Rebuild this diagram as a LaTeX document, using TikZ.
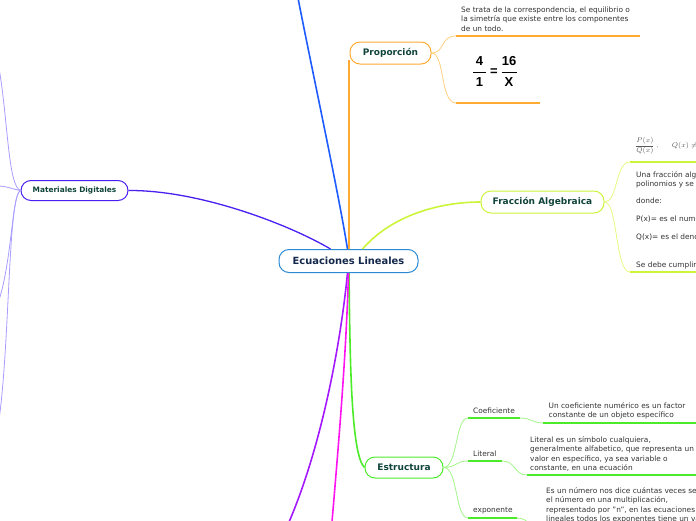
\documentclass[tikz,border=0pt]{standalone}
\usepackage{fontspec}
\setmainfont{DejaVu Sans}
\newfontfamily\arialfont{Liberation Sans}
\usetikzlibrary{calc}
\definecolor{cblue}{HTML}{1F5CFF}
\definecolor{cmat}{HTML}{4A1FF0}
\definecolor{cmatl}{HTML}{A89CFF}
\definecolor{corange}{HTML}{FFAA33}
\definecolor{corangel}{HTML}{FFD080}
\definecolor{cyel}{HTML}{CCF53A}
\definecolor{cyell}{HTML}{E4FA80}
\definecolor{cgreen}{HTML}{4CEB2A}
\definecolor{cgreenl}{HTML}{A2F58A}
\definecolor{cpurple}{HTML}{A418FF}
\definecolor{cmag}{HTML}{FF14F0}
\definecolor{ccentral}{HTML}{2A8AD4}
\definecolor{txtgreen}{HTML}{10443A}
\definecolor{txtnavy}{HTML}{14284B}
\definecolor{txtgray}{HTML}{333333}
\begin{document}
\begin{tikzpicture}[x=1pt,y=-1pt,
  topic/.style={draw, rounded corners=10pt, fill=white, line width=1pt, inner sep=0pt,
    font=\bfseries\fontsize{9}{11}\selectfont, text=txtgreen},
  txt/.style={font=\fontsize{7.4}{9.3}\selectfont, text=txtgray, align=left, inner sep=0pt, anchor=base west},
  lbl/.style={font=\fontsize{7.4}{9}\selectfont, text=txtgray, inner sep=0pt, anchor=base west},
  branch/.style={line width=1.6pt},
  sub/.style={line width=0.8pt},
  uline/.style={line width=1.8pt}
]
\useasboundingbox (0,0) rectangle (696,520);

% ---------- nodes ----------
\node[topic, draw=ccentral, minimum width=139pt, minimum height=23pt, text=txtnavy,
  font=\bfseries\fontsize{9.9}{11}\selectfont] (c) at (348.5,261) {Ecuaciones Lineales};
\node[topic, draw=corange, minimum width=81pt, minimum height=22pt] (prop) at (390.5,53) {Proporción};
\node[topic, draw=cyel, minimum width=123pt, minimum height=22pt] (frac) at (542.5,202) {Fracción Algebraica};
\node[topic, draw=cgreen, minimum width=78pt, minimum height=21pt] (est) at (404,467.5) {Estructura};
\node[topic, draw=cmat, minimum width=107pt, minimum height=20pt,
  font=\bfseries\fontsize{7.4}{8}\selectfont] (mat) at (74.5,190.5) {Materiales Digitales};

% free ends
\coordinate (blueend) at (298,-2);
\coordinate (purend) at (289,522);
\coordinate (magend) at (332,522);
\coordinate (l1) at (-1,68);
\coordinate (l2) at (-1,186);
\coordinate (l3) at (-1,300);
\coordinate (l4) at (-1,420);

% ---------- main branches ----------
\draw[branch, cblue] ($(c.north)+(-1,0)$) .. controls (338,190) and (312,70) .. (blueend);
\draw[branch, cmat, line width=1.3pt] ($(c.north)+(-18,0)$) .. controls (290,225) and (200,190) .. (mat.east);
\draw[branch, corange] ($(c.north)+(0.5,0)$) .. controls (349,160) and (349,90) .. ($(prop.west)+(-0.5,7)$);
\draw[branch, cyel] ($(c.north)+(14,0)$) .. controls (392,215) and (440,202) .. (frac.west);
\draw[branch, cgreen] ($(c.south)+(0.5,0)$) .. controls (350,360) and (351,455) .. (est.west);
\draw[branch, cpurple] ($(c.south)+(-1,0)$) .. controls (340,350) and (320,450) .. (purend);
\draw[branch, cmag] ($(c.south)+(0,0)$) .. controls (346,360) and (338,450) .. (magend);

% ---------- Materiales sub-lines ----------
\draw[sub, cmatl] (mat.west) .. controls (8,186) and (8,120) .. (l1);
\draw[sub, cmatl] (mat.west) .. controls (12,189) and (6,186) .. (l2);
\draw[sub, cmatl] (mat.west) .. controls (12,194) and (12,260) .. (l3);
\draw[sub, cmatl] (mat.west) .. controls (8,196) and (10,340) .. (l4);

% ---------- Proporción children ----------
\coordinate (p1) at (456,36);
\coordinate (p2) at (456,103);
\draw[sub, corangel] (prop.east) .. controls (445,53) and (440,36) .. (p1);
\draw[sub, corangel] (prop.east) .. controls (445,53) and (440,103) .. (p2);
\draw[uline, corange] (p1) -- (640,36);
\draw[uline, corange] (p2) -- (540,103);
\node[txt] (ptext) at (461,31) {Se trata de la correspondencia, el equilibrio o\\la simetría que existe entre los componentes\\de un todo.};
% fraction image
\begin{scope}[font=\arialfont\bfseries\fontsize{13}{13}\selectfont, inner sep=0pt]
\node (f4) at (479.5,61.5) {4};
\node (f1) at (479.5,82.5) {1};
\node (feq) at (494,72) {=};
\node (f16) at (509,61.5) {16};
\node (fx) at (509,82.5) {X};
\draw[line width=1pt] (473,72) -- (486,72);
\draw[line width=1pt] (501.5,72) -- (516.5,72);
\end{scope}

% ---------- Fracción children ----------
\coordinate (q1) at (630,162);
\coordinate (q2) at (630,272);
\draw[sub, cyell] (frac.east) .. controls (618,202) and (615,162) .. (q1);
\draw[sub, cyell] (frac.east) .. controls (618,202) and (615,272) .. (q2);
\draw[uline, cyel] (q1) -- (698,162);
\draw[uline, cyel] (q2) -- (698,272);
\node[anchor=west, inner sep=0pt, text=black!65, font=\fontsize{7.5}{9}\selectfont] (form) at (635,146)
  {$\displaystyle\frac{P(x)}{Q(x)}\,,\quad\;\; Q(x)\neq 0$};
\node[txt] (ftext) at (636,186.5) {Una fracción algebraica\\polinomios y se};
\node[lbl] (fd) at (636,203.5) {donde:};
\node[lbl] (fp) at (636,221.5) {P(x)= es el numerador};
\node[lbl] (fq) at (636,239.5) {Q(x)= es el denominador};
\node[lbl] (fs) at (636,267.5) {Se debe cumplir};

% ---------- Estructura children ----------
\coordinate (e1a) at (468,418);
\coordinate (e1b) at (520,418);
\coordinate (e1c) at (543,423);
\coordinate (e2a) at (468,461);
\coordinate (e2b) at (502,461);
\coordinate (e2c) at (527,475);
\coordinate (e3a) at (468,518);
\coordinate (e3b) at (517,518);
\coordinate (e3c) at (542,530);
\draw[sub, cgreenl] (est.east) .. controls (458,467) and (455,418) .. (e1a);
\draw[sub, cgreenl] (est.east) .. controls (458,467) and (455,461) .. (e2a);
\draw[sub, cgreenl] (est.east) .. controls (458,467) and (455,518) .. (e3a);
\draw[uline, cgreen] (e1a) -- (e1b);
\draw[uline, cgreen] (e2a) -- (e2b);
\draw[uline, cgreen] (e3a) -- (e3b);
\draw[sub, cgreenl] (e1b) .. controls (532,418) and (532,423) .. (e1c);
\draw[sub, cgreenl] (e2b) .. controls (516,461) and (514,475) .. (e2c);
\draw[sub, cgreenl] (e3b) .. controls (530,518) and (530,530) .. (e3c);
\draw[uline, cgreen] (e1c) -- (698,423);
\draw[uline, cgreen] (e2c) -- (698,475);
\node[lbl] (coef) at (473,413.5) {Coeficiente};
\node[lbl] (lit) at (473,456.5) {Literal};
\node[lbl] (expo) at (473,512.5) {exponente};
\node[txt] (coeft) at (548.5,417.5) {Un coeficiente numérico es un factor\\constante de un objeto específico};
\node[txt] (litt) at (530,470.5) {Literal es un símbolo cualquiera,\\generalmente alfabetico, que representa un\\valor en específico, ya sea variable o\\constante, en una ecuación};
\node[txt] (expt) at (546,521.5) {Es un número nos dice cuántas veces se\\el número en una multiplicación,\\representado por "n", en las ecuaciones\\lineales todos los exponentes tiene un valor};
\end{tikzpicture}
\end{document}
